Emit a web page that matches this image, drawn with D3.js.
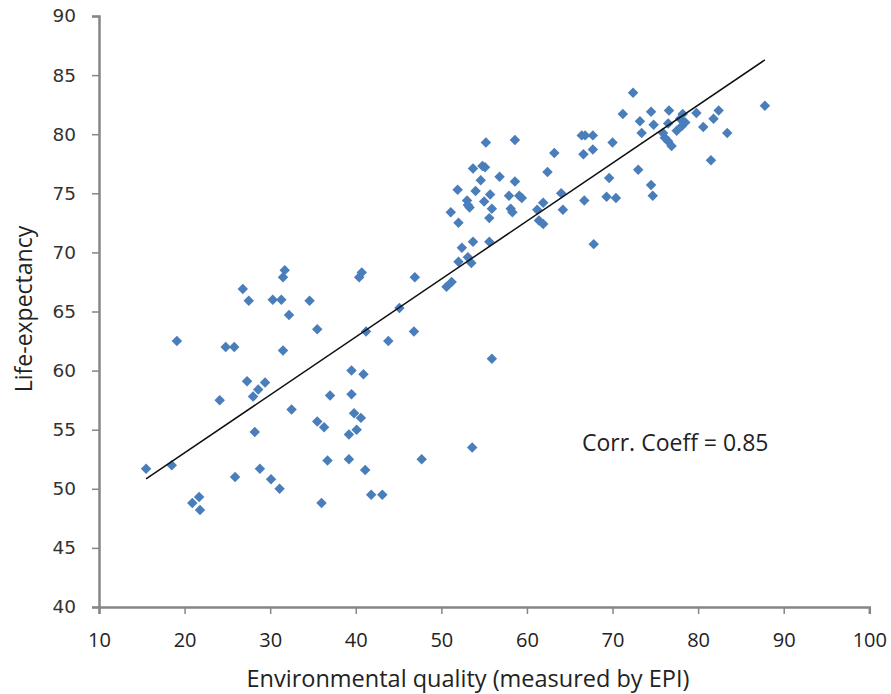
<!DOCTYPE html>
<html>
<head>
<meta charset="utf-8">
<script src="https://cdn.jsdelivr.net/npm/d3@7"></script>
<style>
  html, body { margin: 0; padding: 0; background: #fff; }
  svg { display: block; }
</style>
</head>
<body>
<svg id="chart" width="891" height="694"></svg>
<script>
// Environmental Performance Index score per country
const epi = [
  31.7, 31.5, 26.8, 27.5, 30.3, 31.3, 34.6, 32.2, 35.5, 19.1,
  24.8, 25.8, 31.5, 27.3, 29.4, 28.6, 28.0, 37.0, 24.1, 32.5,
  35.5, 36.3, 28.2, 36.7, 15.5, 18.5, 25.9, 28.8, 30.1, 31.1,
  21.7, 20.9, 21.8, 36.0,
  52.4, 53.7, 55.6, 52.0, 53.5, 53.1, 40.7, 40.4, 46.9, 51.2,
  50.6, 45.1, 41.2, 43.8, 46.8, 55.9, 39.5, 40.9, 39.5, 39.8,
  40.6, 40.1, 39.2, 53.6, 39.2, 47.7, 41.1, 41.8, 43.1,
  55.2, 58.6, 66.4, 66.8, 67.7, 70.0, 63.2, 66.6, 67.7, 53.7,
  54.8, 55.1, 62.4, 54.6, 56.8, 58.6, 69.6, 51.9, 54.0, 55.7,
  57.9, 59.1, 59.4, 64.0, 69.3, 70.4, 53.0, 53.1, 53.3, 55.0,
  66.7, 61.9, 51.1, 55.9, 58.1, 58.3, 61.2, 64.2, 52.0, 55.6,
  61.4, 61.9, 67.8,
  72.4, 87.8, 71.2, 74.5, 76.6, 78.2, 79.8, 82.4, 73.2, 74.8,
  76.5, 77.9, 78.5, 81.8, 78.1, 73.4, 75.9, 77.5, 80.6, 83.4,
  76.1, 76.5, 76.9, 81.5, 73.0, 74.5, 74.7
];

// Life expectancy (years), same country order
const lifeExpectancy = [
  68.5, 67.9, 66.9, 65.9, 66.0, 66.0, 65.9, 64.7, 63.5, 62.5,
  62.0, 62.0, 61.7, 59.1, 59.0, 58.4, 57.8, 57.9, 57.5, 56.7,
  55.7, 55.2, 54.8, 52.4, 51.7, 52.0, 51.0, 51.7, 50.8, 50.0,
  49.3, 48.8, 48.2, 48.8,
  70.4, 70.9, 70.9, 69.2, 69.1, 69.6, 68.3, 67.9, 67.9, 67.5,
  67.1, 65.3, 63.3, 62.5, 63.3, 61.0, 60.0, 59.7, 58.0, 56.4,
  56.0, 55.0, 54.6, 53.5, 52.5, 52.5, 51.6, 49.5, 49.5,
  79.3, 79.5, 79.9, 79.9, 79.9, 79.3, 78.4, 78.3, 78.7, 77.1,
  77.3, 77.2, 76.8, 76.1, 76.4, 76.0, 76.3, 75.3, 75.2, 74.9,
  74.8, 74.8, 74.6, 75.0, 74.7, 74.6, 74.4, 74.0, 73.8, 74.3,
  74.4, 74.2, 73.4, 73.7, 73.7, 73.4, 73.6, 73.6, 72.5, 72.9,
  72.7, 72.4, 70.7,
  83.5, 82.4, 81.7, 81.9, 82.0, 81.7, 81.8, 82.0, 81.1, 80.8,
  80.9, 81.3, 81.0, 81.3, 80.7, 80.1, 80.1, 80.3, 80.6, 80.1,
  79.7, 79.4, 79.0, 77.8, 77.0, 75.7, 74.8
];

// Linear trend fitted to the scatter
const trendIntercept = 43.23;
const trendSlope = 0.4904;
const corrLabel = "Corr. Coeff = 0.85";

const xTicks = [10, 20, 30, 40, 50, 60, 70, 80, 90, 100];
const yTicks = [40, 45, 50, 55, 60, 65, 70, 75, 80, 85, 90];

const xTitle = "Environmental quality (measured by EPI)";
const yTitle = "Life-expectancy";

const svg = d3.select("#chart");

const x = d3.scaleLinear().domain([10, 100]).range([99, 869.3]);
const y = d3.scaleLinear().domain([40, 90]).range([607, 16]);

const axisColor = "#868686";
const textFont = "'Open Sans', sans-serif";

// Y axis
const yAxis = svg.append("g")
  .attr("transform", `translate(${x(10)},0)`)
  .call(d3.axisLeft(y).tickValues(yTicks).tickSize(7).tickPadding(16).tickFormat(d3.format("d")));
yAxis.select(".domain").attr("stroke", axisColor).attr("stroke-width", 2.5);
yAxis.selectAll(".tick line").attr("stroke", axisColor).attr("stroke-width", 1.5);
yAxis.selectAll(".tick text")
  .attr("fill", "#333")
  .style("font-family", "'DejaVu Sans', Verdana, sans-serif")
  .style("font-size", "18.5px");

// X axis
const xAxis = svg.append("g")
  .attr("transform", `translate(0,${y(40)})`)
  .call(d3.axisBottom(x).tickValues(xTicks).tickSize(7).tickPadding(19).tickFormat(d3.format("d")));
xAxis.select(".domain").attr("stroke", axisColor).attr("stroke-width", 2.5);
xAxis.selectAll(".tick line").attr("stroke", axisColor).attr("stroke-width", 1.5);
xAxis.selectAll(".tick text")
  .attr("fill", "#222")
  .style("font-family", textFont)
  .style("font-size", "20px");

// Axis titles
svg.append("text")
  .attr("x", 468)
  .attr("y", 687)
  .attr("text-anchor", "middle")
  .attr("fill", "#222")
  .style("font-family", textFont)
  .style("font-size", "23.5px")
  .text(xTitle);

svg.append("text")
  .attr("transform", "translate(31.5,309) rotate(-90)")
  .attr("text-anchor", "middle")
  .attr("fill", "#222")
  .style("font-family", textFont)
  .style("font-size", "23px")
  .text(yTitle);

// Scatter points as diamonds
const points = epi.map((v, i) => ({ x: v, y: lifeExpectancy[i] }));
const diamond = d3.symbol().type(d3.symbolDiamond2).size(70);
svg.append("g")
  .selectAll("path")
  .data(points)
  .join("path")
  .attr("d", diamond)
  .attr("transform", d => `translate(${x(d.x)},${y(d.y)})`)
  .attr("fill", "#4a7ebb");

// Trend line across the data range
const [xMin, xMax] = d3.extent(epi);
svg.append("line")
  .attr("x1", x(xMin)).attr("y1", y(trendIntercept + trendSlope * xMin))
  .attr("x2", x(xMax)).attr("y2", y(trendIntercept + trendSlope * xMax))
  .attr("stroke", "#111")
  .attr("stroke-width", 1.5);

// Correlation annotation
svg.append("text")
  .attr("x", 582)
  .attr("y", 451)
  .attr("fill", "#222")
  .style("font-family", textFont)
  .style("font-size", "23px")
  .text(corrLabel);
</script>
</body>
</html>
